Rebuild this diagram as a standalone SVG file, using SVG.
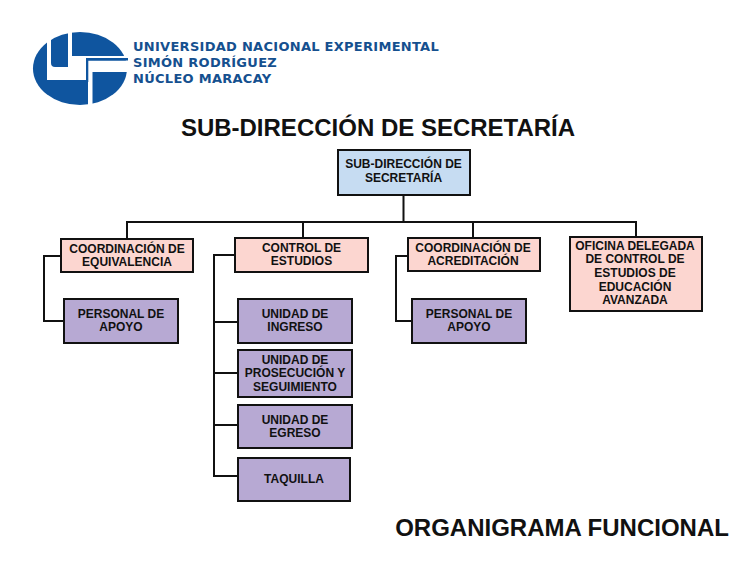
<svg xmlns="http://www.w3.org/2000/svg" width="756" height="567" viewBox="0 0 756 567">
<style>
.b{stroke:#111;stroke-width:2}
.blue{fill:#c6dcf2}.pink{fill:#fcd6d0}.purple{fill:#b7a9d3}
text{font-family:"Liberation Sans",Arial,sans-serif;font-weight:700;fill:#111;text-anchor:middle}
.n{font-size:12px}
.t{font-size:24px}
.l{font-family:"DejaVu Sans",Verdana,sans-serif;font-size:13px;font-weight:600;fill:#15508f;text-anchor:start;letter-spacing:.28px}
.c{fill:none;stroke:#111;stroke-width:2}
</style>
<g id="logo">
<ellipse cx="80" cy="68.500" rx="47" ry="36.500" fill="#0f559f"/>
<path d="M47 28H51V63Q51 67 55 67H68V28H72V56H128V58H88V60.500H128V72H92.500V108H88V80H47Z" fill="#fff"/>
<path d="M86 58H128V60.500H88.300V82H86Z" fill="#0f559f"/>
<text class="l" x="133" y="51">UNIVERSIDAD NACIONAL EXPERIMENTAL</text>
<text class="l" x="133" y="67">SIMÓN RODRÍGUEZ</text>
<text class="l" x="133" y="83">NÚCLEO MARACAY</text>
</g>
<text class="t" x="378" y="136">SUB-DIRECCIÓN DE SECRETARÍA</text>
<text class="t" x="562" y="536">ORGANIGRAMA FUNCIONAL</text>
<g id="connectors" class="c">
<path d="M403.500 195V222M127 239V222H636V237M303 222V238M473 222V238"/>
<path d="M61 256H44V321H64"/>
<path d="M235 255H214V476H238M214 322H238M214 373H238M214 425H238"/>
<path d="M408 256H396V321H412"/>
</g>
<g id="n1"><rect class="b blue" x="338" y="150" width="132" height="45"/><text class="n" x="403.500" y="168">SUB-DIRECCIÓN DE</text><text class="n" x="403.500" y="182">SECRETARÍA</text></g>
<g id="n2"><rect class="b pink" x="61" y="239" width="132" height="33"/><text class="n" x="127" y="253">COORDINACIÓN DE</text><text class="n" x="127" y="266">EQUIVALENCIA</text></g>
<g id="n3"><rect class="b pink" x="235" y="238" width="133" height="34"/><text class="n" x="301.500" y="252">CONTROL DE</text><text class="n" x="301.500" y="265">ESTUDIOS</text></g>
<g id="n4"><rect class="b pink" x="408" y="238" width="132" height="33"/><text class="n" x="473" y="252">COORDINACIÓN DE</text><text class="n" x="473" y="265">ACREDITACIÓN</text></g>
<g id="n5"><rect class="b pink" x="570" y="237" width="132" height="74"/><text class="n" x="635" y="250">OFICINA DELEGADA</text><text class="n" x="635" y="263">DE CONTROL DE</text><text class="n" x="635" y="277">ESTUDIOS DE</text><text class="n" x="635" y="291">EDUCACIÓN</text><text class="n" x="635" y="304">AVANZADA</text></g>
<g id="n6"><rect class="b purple" x="64" y="299" width="114" height="44"/><text class="n" x="121" y="318">PERSONAL DE</text><text class="n" x="121" y="331">APOYO</text></g>
<g id="n7"><rect class="b purple" x="238" y="299" width="114" height="44"/><text class="n" x="295" y="318">UNIDAD DE</text><text class="n" x="295" y="331">INGRESO</text></g>
<g id="n8"><rect class="b purple" x="238" y="350" width="114" height="47"/><text class="n" x="295" y="364">UNIDAD DE</text><text class="n" x="295" y="377">PROSECUCIÓN Y</text><text class="n" x="295" y="391">SEGUIMIENTO</text></g>
<g id="n9"><rect class="b purple" x="238" y="405" width="114" height="43"/><text class="n" x="295" y="424">UNIDAD DE</text><text class="n" x="295" y="437">EGRESO</text></g>
<g id="n10"><rect class="b purple" x="238" y="458" width="112" height="43"/><text class="n" x="294" y="483">TAQUILLA</text></g>
<g id="n11"><rect class="b purple" x="412" y="299" width="114" height="44"/><text class="n" x="469" y="318">PERSONAL DE</text><text class="n" x="469" y="331">APOYO</text></g>
</svg>
